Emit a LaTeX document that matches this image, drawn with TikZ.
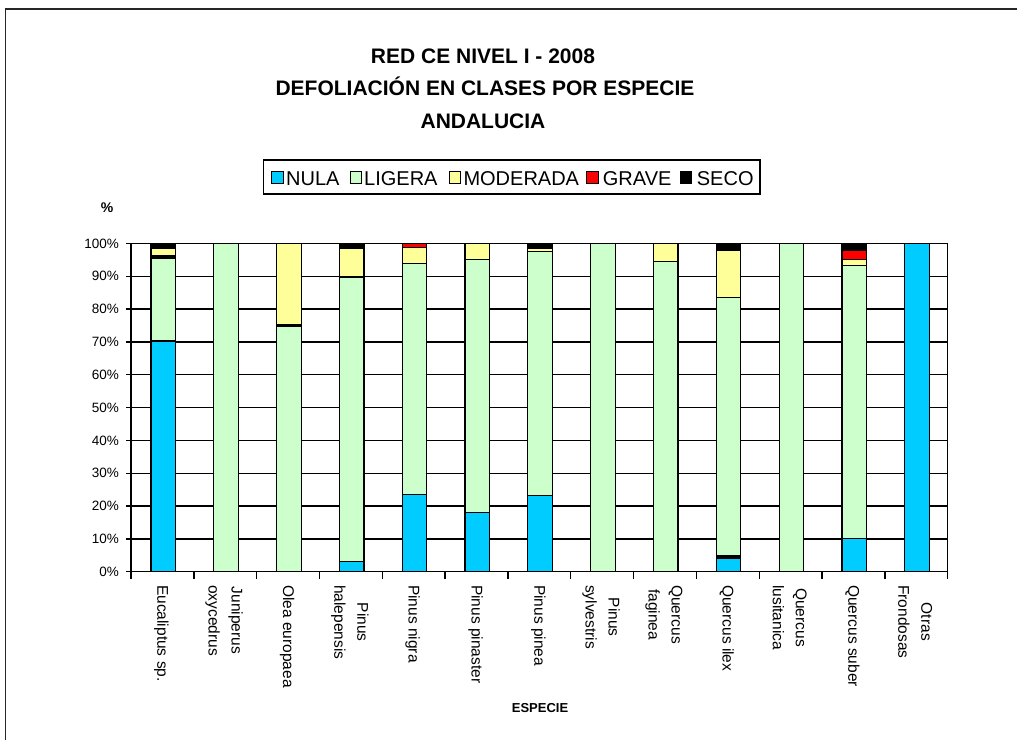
\documentclass[tikz,border=0pt]{standalone}
\usepackage{fontspec}
\setmainfont{Liberation Sans}
\definecolor{NUL}{HTML}{00CCFF}
\definecolor{LIG}{HTML}{CCFFCC}
\definecolor{MOD}{HTML}{FFFF99}
\definecolor{GRA}{HTML}{FF0000}
\definecolor{SEC}{HTML}{000000}
\begin{document}
\begin{tikzpicture}[x=1pt,y=-1pt,
  grid/.style={black,line width=1.4pt},
  seg/.style={draw=black,line width=1.2pt},
  ticklbl/.style={anchor=east,inner sep=0pt,font=\fontsize{13.5}{16}\selectfont},
  catlbl/.style={anchor=west,rotate=-90,inner sep=0pt,align=center,font=\fontsize{15.5}{23}\selectfont},
  legsq/.style={draw=black,line width=1pt,minimum size=11.5pt,inner sep=0pt},
  legtxt/.style={anchor=base west,inner sep=0pt,font=\fontsize{20}{24}\selectfont},
  titl/.style={anchor=base,inner sep=0pt,font=\fontsize{21}{25}\selectfont\bfseries}]
\useasboundingbox (0,0) rectangle (1017,740);
% outer frame
\draw[line width=1.5pt,black!85] (5.5,740) -- (5.5,9) -- (1017,9);
% title
\node[titl] (t1) at (483,63.3) {RED CE NIVEL I - 2008};
\node[titl] (t2) at (485,95.7) {DEFOLIACIÓN EN CLASES POR ESPECIE};
\node[titl] (t3) at (483,128.3) {ANDALUCIA};
% legend
\node[draw=black,line width=1.4pt,minimum width=496.7pt,minimum height=34pt,inner sep=0pt] (leg) at (511.7,177) {};
\foreach \c/\lx/\tx/\txt [count=\k] in {NUL/271.7/286/NULA,LIG/350/364/LIGERA,MOD/449.3/463.3/MODERADA,GRA/586.7/602.7/GRAVE,SEC/680/696.7/SECO}{
  \node[legsq,fill=\c] (lsq\k) at (\lx+5.8,177.5) {};
  \node[legtxt] (ltx\k) at (\tx,185) {\txt};
}
% percent sign
\node[inner sep=0pt,font=\fontsize{14}{16}\selectfont\bfseries] (pct) at (107,207.5) {\%};
% gridlines and tick labels
\foreach \p in {0,10,...,100}{
  \draw[grid] (126,{571.7-3.282*\p}) -- (947.7,{571.7-3.282*\p});
  \node[ticklbl] (yl\p) at (119,{571.7-3.282*\p}) {\p\%};
}
% bars
\foreach \i/\segs in {
 1/{NUL/0/70.3,LIG/70.3/95.5,SEC/95.5/96.4,MOD/96.4/98.4,SEC/98.4/100},
 2/{LIG/0/100},
 3/{LIG/0/74.6,SEC/74.6/75.4,MOD/75.4/100},
 4/{NUL/0/3,LIG/3/89.8,MOD/89.8/98.6,SEC/98.6/100},
 5/{NUL/0/23.6,LIG/23.6/94,MOD/94/98.8,GRA/98.8/100},
 6/{NUL/0/18.1,LIG/18.1/95.1,MOD/95.1/100},
 7/{NUL/0/23.2,LIG/23.2/97.5,MOD/97.5/98.6,SEC/98.6/100},
 8/{LIG/0/100},
 9/{LIG/0/94.5,MOD/94.5/100},
 10/{NUL/0/4,SEC/4/4.8,LIG/4.8/83.5,MOD/83.5/98,SEC/98/100},
 11/{LIG/0/100},
 12/{NUL/0/10.2,LIG/10.2/93.3,MOD/93.3/95.2,GRA/95.2/97.8,SEC/97.8/100},
 13/{NUL/0/100}}{
  \pgfmathsetmacro\cx{131+62.82*(\i-0.5)+0.8}
  \foreach \c/\a/\b in \segs {
    \filldraw[seg,fill=\c] ({\cx-12.25},{571.7-3.282*\a}) rectangle ({\cx+12.25},{571.7-3.282*\b});
  }
}
% plot frame
\draw[grid] (131,243.5) rectangle (947.7,571.7);
% category ticks
\foreach \k in {0,...,13}{
  \draw[grid] ({131+62.82*\k},571.7) -- ({131+62.82*\k},578.7);
}
% category labels
\foreach \i/\txt in {1/Eucaliptus sp.,2/Juniperus\\oxycedrus,3/Olea europaea,4/Pinus\\halepensis,5/Pinus nigra,6/Pinus pinaster,7/Pinus pinea,8/Pinus\\sylvestris,9/Quercus\\faginea,10/Quercus ilex,11/Quercus\\lusitanica,12/Quercus suber,13/Otras\\Frondosas}{
  \node[catlbl] (cl\i) at ({131+62.82*(\i-0.5)-1},585) {\txt};
}
% axis title
\node[anchor=base,inner sep=0pt,font=\fontsize{13}{15}\selectfont\bfseries] (xt) at (540,712.3) {ESPECIE};
\end{tikzpicture}
\end{document}
